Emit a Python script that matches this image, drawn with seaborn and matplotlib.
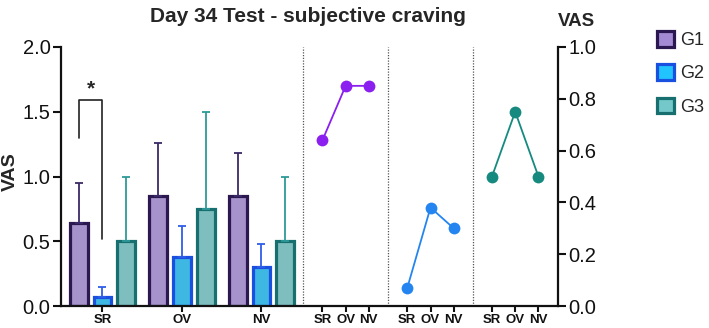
import numpy as np
import pandas as pd
import seaborn as sns
import matplotlib.pyplot as plt
from matplotlib.patches import Patch

# Datos
categorias = ['SR', 'OV', 'NV']
grupos = ['G1', 'G2', 'G3']
media_g1 = [0.64, 0.85, 0.85]
media_g2 = [0.07, 0.38, 0.30]
media_g3 = [0.50, 0.75, 0.50]
error_g1 = [0.31, 0.41, 0.33]
error_g2 = [0.08, 0.24, 0.18]
error_g3 = [0.50, 0.75, 0.50]

medias = {'G1': media_g1, 'G2': media_g2, 'G3': media_g3}
errores = {'G1': error_g1, 'G2': error_g2, 'G3': error_g3}

# Estilo
sns.set_theme(style='white')
plt.rcParams['font.family'] = ['Liberation Sans', 'DejaVu Sans']

relleno = {'G1': '#A48AD4', 'G2': '#22C4FF', 'G3': '#74C8C9'}
borde = {'G1': '#2B1850', 'G2': '#1A50E0', 'G3': '#17706F'}
color_err = {'G1': '#3A2A68', 'G2': '#2F5EE8', 'G3': '#2E9A9A'}
color_linea = {'G1': '#8A1FF0', 'G2': '#2585F0', 'G3': '#168A7F'}

df = pd.DataFrame({
    'cat': np.tile(categorias, len(grupos)),
    'grupo': np.repeat(grupos, len(categorias)),
    'vas': media_g1 + media_g2 + media_g3,
})

fig = plt.figure(figsize=(7.09, 3.28), dpi=100)
ax = fig.add_axes([61 / 709, 22 / 328, 496.7 / 709, 259 / 328])

sns.barplot(data=df, x='cat', y='vas', hue='grupo', order=categorias, hue_order=grupos,
            palette=relleno, width=0.9, gap=0.25, errorbar=None, legend=False, ax=ax)

# bordes y barras de error (solo hacia arriba)
centros = {}
for g, cont in zip(grupos, ax.containers):
    xs = []
    for bar in cont:
        bar.set_edgecolor(borde[g])
        bar.set_linewidth(2.3)
        xs.append(bar.get_x() + bar.get_width() / 2)
    centros[g] = xs
    ax.errorbar(xs, medias[g], yerr=[np.zeros(3), errores[g]], fmt='none',
                ecolor=color_err[g], elinewidth=1.3, capsize=3, capthick=1.3, zorder=1)

ax.set_xlim(-0.522, 5.726)
ax.set_ylim(0, 2.0)
ax.set_yticks([0, 0.5, 1.0, 1.5, 2.0])
ax.set_yticklabels(['0.0', '0.5', '1.0', '1.5', '2.0'], fontsize=14.5)
ax.set_xlabel('')
ax.set_ylabel('')

# separadores de paneles
separadores = [2.522, 3.595, 4.657, 5.726]
for s in separadores[:3]:
    ax.axvline(s, ymin=0, ymax=1, color='#555555', linestyle=(0, (1, 1.2)), linewidth=0.9, zorder=0)

# paneles de líneas (eje derecho)
ax2 = ax.twinx()
ax2.set_ylim(0, 1.0)
posiciones_linea = []
for i, g in enumerate(grupos):
    c = (separadores[i] + separadores[i + 1]) / 2
    xs = [c - 0.292, c, c + 0.292]
    posiciones_linea += xs
    sns.lineplot(x=xs, y=medias[g], color=color_linea[g], marker='o', markersize=8.5,
                 markeredgewidth=0, linewidth=1.3, ax=ax2)

ticks_x = list(range(len(categorias))) + posiciones_linea
etiquetas_x = categorias * 4
ax.set_xticks(ticks_x)
ax.set_xticklabels(etiquetas_x, fontsize=9.5, fontweight='bold')

for a in (ax, ax2):
    for sp in a.spines.values():
        sp.set_linewidth(1.6)
        sp.set_color('#111111')
    a.spines['top'].set_visible(False)
ax.spines['right'].set_visible(False)
ax2.spines['left'].set_visible(False)
ax2.spines['bottom'].set_visible(False)

ax.tick_params(axis='y', direction='out', length=6, width=1.5, colors='#111111', pad=1.5, left=True)
ax.tick_params(axis='x', direction='out', length=4, width=1.5, colors='#111111', pad=2, bottom=True)
ax2.set_yticks([0, 0.2, 0.4, 0.6, 0.8, 1.0])
ax2.set_yticklabels(['0.0', '0.2', '0.4', '0.6', '0.8', '1.0'], fontsize=14.5)
ax2.tick_params(axis='y', direction='out', length=6, width=1.5, colors='#111111', pad=1.5, right=True)

# significancia
x1, x2 = centros['G1'][0], centros['G2'][0]
ax.plot([x1, x1, x2, x2], [1.30, 1.59, 1.59, 0.515], color='#222222', linewidth=1.2)
ax.text((x1 + x2) / 2, 1.60, '*', ha='center', va='bottom', fontsize=15, fontweight='bold')

# textos
fig.text(308 / 709, 1 - 16 / 328, 'Day 34 Test - subjective craving', ha='center', va='center',
         fontsize=15, fontweight='bold')
fig.text(10 / 709, 1 - 172 / 328, 'VAS', rotation=90, ha='center', va='center',
         fontsize=14, fontweight='bold')
fig.text(576 / 709, 1 - 21 / 328, 'VAS', ha='center', va='center', fontsize=13.5, fontweight='bold')

handles = [Patch(facecolor=relleno[g], edgecolor=borde[g], linewidth=2.3, label=g) for g in grupos]
fig.legend(handles=handles, loc='upper left', bbox_to_anchor=(657 / 709, 1 - 31 / 328),
           frameon=False, fontsize=13, handlelength=0.95, handleheight=0.95,
           handletextpad=0.35, labelspacing=0.85, borderpad=0, borderaxespad=0)

plt.savefig('out.png', dpi=100)
